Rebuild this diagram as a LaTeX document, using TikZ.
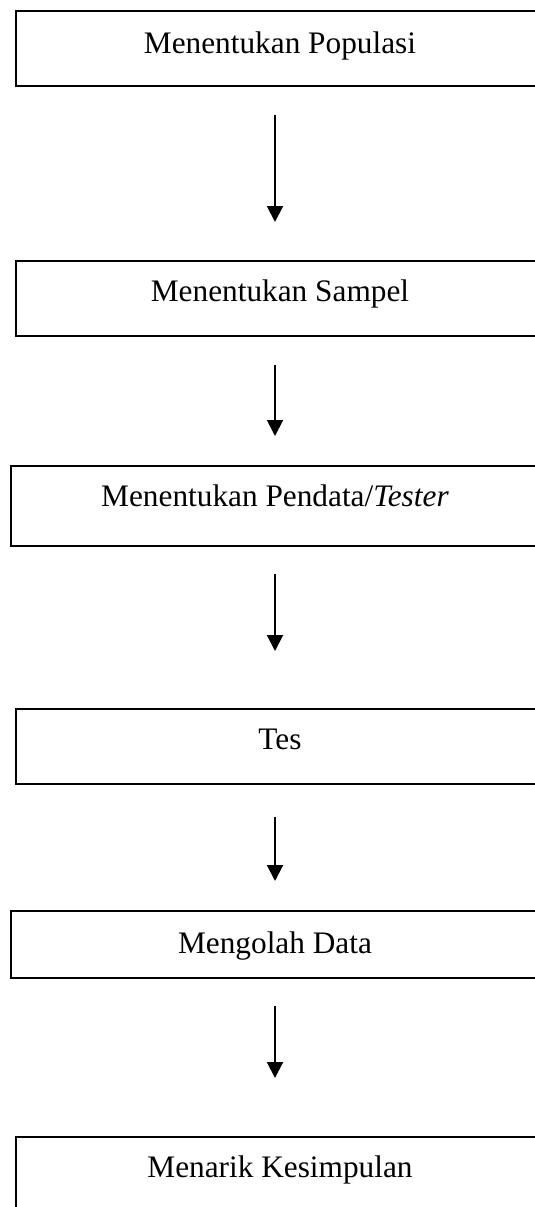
\documentclass[tikz,border=0pt]{standalone}
\usepackage{fontspec}
\setmainfont{Liberation Serif}
\usetikzlibrary{arrows.meta}
\begin{document}
\begin{tikzpicture}[x=1pt,y=-1pt,
	langkah/.style={draw,rectangle,line width=2pt,anchor=north west,inner sep=0pt,minimum width=528pt,text height=40pt,font=\fontsize{31.3}{36}\selectfont},
	panah/.style={line width=2pt,-{Triangle[width=16pt,length=16pt]}}]
	\useasboundingbox (0,0) rectangle (535,1207);
	% draw the steps of the research procedure
	\node[langkah,text height=42pt,text depth=33pt] (b1) at (15,10) {Menentukan Populasi};
	\node[langkah,text depth=35pt] (b2) at (15,260) {Menentukan Sampel};
	\node[langkah,text depth=40pt] (b3) at (10,465) {Menentukan Pendata/\textit{Tester}};
	\node[langkah,text depth=35pt] (b4) at (15,708) {Tes};
	\node[langkah,text height=42pt,text depth=25pt] (b5) at (10,910) {Mengolah Data};
	\node[langkah,text depth=80pt] (b6) at (15,1136) {Menarik Kesimpulan};

	\draw[panah,shorten <=28pt,shorten >=38pt] (275,0 |- b1.south) -- (275,0 |- b2.north);
	\draw[panah,shorten <=28pt,shorten >=29pt] (275,0 |- b2.south) -- (275,0 |- b3.north);
	\draw[panah,shorten <=27pt,shorten >=57pt] (275,0 |- b3.south) -- (275,0 |- b4.north);
	\draw[panah,shorten <=32pt,shorten >=29pt] (275,0 |- b4.south) -- (275,0 |- b5.north);
	\draw[panah,shorten <=27pt,shorten >=58pt] (275,0 |- b5.south) -- (275,0 |- b6.north);
\end{tikzpicture}
\end{document}
